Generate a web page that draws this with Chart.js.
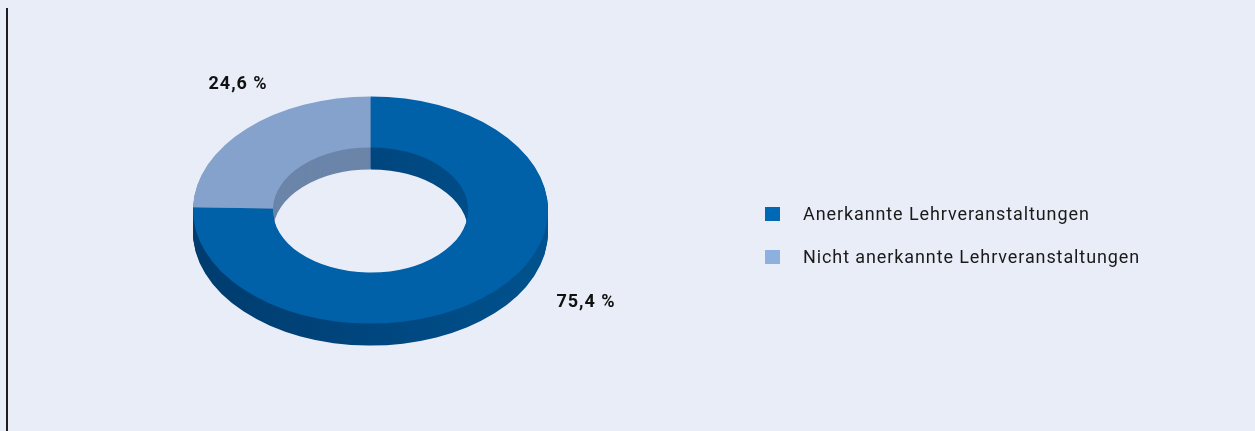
<!DOCTYPE html>
<html><head><meta charset="utf-8">
<script src="https://cdn.jsdelivr.net/npm/chart.js@4/dist/chart.umd.min.js"></script>
<style>
html,body{margin:0;padding:0;background:#E9EDF8;overflow:hidden;}
#wrap{position:relative;width:1255px;height:431px;background:#E9EDF8;}
#line{position:absolute;left:6px;top:8px;width:2px;height:423px;background:#1e1e1e;}
canvas{position:absolute;left:0;top:0;}
</style></head><body>
<div id="wrap"><div id="line"></div><canvas id="c" width="1255" height="431"></canvas></div>
<script>
const categories = ['Anerkannte Lehrveranstaltungen', 'Nicht anerkannte Lehrveranstaltungen'];
const values = [75.4, 24.6];
const valueLabels = ['75,4 %', '24,6 %'];

const topColors = ['#0060A8', '#84A2CB'];
const sideColors = ['#00467E', '#6B85A9'];
const legendColors = ['#0068B4', '#8DB0DE'];
const SQUISH = 0.64;
const DEPTH = 22;

function withOptions(el, patch, fn) {
  const orig = el.options;
  el.options = Object.assign({}, orig, patch);
  try { fn(); } finally { el.options = orig; }
}

const pseudo3d = {
  id: 'pseudo3d',
  beforeDatasetsDraw(chart) {
    const ctx = chart.ctx;
    const meta = chart.getDatasetMeta(0);
    const first = meta.data[0];
    const cx = first.x, cy = first.y, R = first.outerRadius;
    for (let d = DEPTH; d >= 1; d--) {
      ctx.save();
      ctx.translate(cx, cy + d);
      ctx.scale(1, SQUISH);
      ctx.translate(-cx, -cy);
      meta.data.forEach((el, i) => {
        let fill = sideColors[i];
        if (i === 0) {
          const g = ctx.createLinearGradient(cx - R, 0, cx + R, 0);
          g.addColorStop(0, '#003C6E');
          g.addColorStop(0.5, '#00467E');
          g.addColorStop(1, '#00528E');
          fill = g;
        }
        withOptions(el, {backgroundColor: fill, borderWidth: 0}, () => el.draw(ctx));
      });
      ctx.restore();
    }
    ctx.save();
    ctx.translate(cx, cy);
    ctx.scale(1, SQUISH);
    ctx.translate(-cx, -cy);
  },
  afterDatasetsDraw(chart) {
    chart.ctx.restore();
  },
  afterDraw(chart) {
    const ctx = chart.ctx;
    const meta = chart.getDatasetMeta(0);
    const first = meta.data[0];
    const cx = first.x, cy = first.y, R = first.outerRadius;
    ctx.save();
    ctx.fillStyle = '#111111';
    ctx.font = 'bold 18px Roboto, "Liberation Sans", sans-serif';
    if ('letterSpacing' in ctx) ctx.letterSpacing = '1px';
    ctx.textAlign = 'center';
    ctx.textBaseline = 'alphabetic';
    // value labels
    ctx.fillText(valueLabels[1], cx - 0.746 * R, cy - 0.68 * R);
    ctx.fillText(valueLabels[0], cx + 1.214 * R, cy + 0.548 * R);
    // legend
    ctx.textAlign = 'left';
    ctx.font = '18px Roboto, "Liberation Sans", sans-serif';
    if ('letterSpacing' in ctx) ctx.letterSpacing = '0.9px';
    categories.forEach((c, i) => {
      const y = 220 + i * 43;
      ctx.fillStyle = legendColors[i];
      ctx.fillRect(765, y - 13, 15, 14);
      ctx.fillStyle = '#1a1a1a';
      ctx.fillText(c, 803, y);
    });
    ctx.restore();
  }
};

new Chart(document.getElementById('c'), {
  type: 'doughnut',
  data: {
    labels: categories,
    datasets: [{
      data: values,
      backgroundColor: topColors,
      borderWidth: 0,
      clip: false
    }]
  },
  options: {
    responsive: false,
    animation: false,
    cutout: '55%',
    layout: {padding: {left: 193, right: 707, top: 32.5, bottom: 43.5}},
    plugins: {legend: {display: false}, tooltip: {enabled: false}}
  },
  plugins: [pseudo3d]
});
</script>
</body></html>
